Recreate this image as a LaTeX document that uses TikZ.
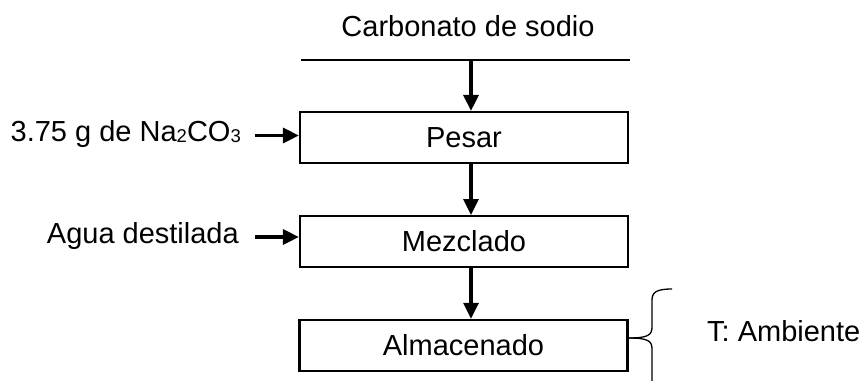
\documentclass[tikz,border=0pt]{standalone}
\usepackage{fontspec}
\setmainfont{Liberation Sans}
\usetikzlibrary{arrows.meta}
\newcommand{\subsc}[1]{\raisebox{-1.5pt}{\fontsize{18.5}{18.5}\selectfont #1}}
\begin{document}
\begin{tikzpicture}[x=1pt,y=-1pt,
  txt/.style={inner sep=0pt,font=\fontsize{29}{34}\selectfont},
  procbox/.style={draw,line width=2.2pt,minimum width=328pt,minimum height=51pt,inner sep=0pt,font=\fontsize{29}{34}\selectfont},
  arr/.style={line width=3.2pt,-{Triangle[length=16pt,width=15pt]}},
  brace/.style={line width=1.3pt}]
\useasboundingbox (0,0) rectangle (866,380);
% top label and line
\node[txt,anchor=base] (carb) at (468,36.7) {Carbonato de sodio};
\coordinate (l1) at (301,60);
\coordinate (l2) at (630,60);
\draw[line width=2.2pt] (l1) -- (l2);
\coordinate (top) at (471,60);
% boxes
\node[procbox] (pesar) at (464,137.5) {Pesar};
\node[procbox] (mezcla) at (464,241.6) {Mezclado};
\node[procbox] (almac) at (463.5,345.4) {Almacenado};
% vertical arrows
\draw[arr] (top) -- (top |- pesar.north);
\draw[arr] (top |- pesar.south) -- (top |- mezcla.north);
\draw[arr] (top |- mezcla.south) -- (top |- almac.north);
% left inputs
\node[txt,anchor=base east] (na) at (241,141) {3.75 g de Na\subsc{2}CO\subsc{3}};
\node[txt,anchor=base east] (agua) at (239,243) {Agua destilada};
\coordinate (na1) at (255,135.5);
\coordinate (ag1) at (255,237);
\draw[arr] (na1) -- (na1 -| pesar.west);
\draw[arr] (ag1) -- (ag1 -| mezcla.west);
% brace
\coordinate (cusp) at (almac.east |- 0,338);
\coordinate (btop) at (672,289);
\coordinate (bbot) at (652,382);
\draw[brace] (btop) .. controls (657,289) and (652,292) .. (652,300) -- (652,327)
  .. controls (652,335) and (648,338) .. (cusp);
\draw[brace] (cusp) .. controls (648,338) and (652,341) .. (652,349) -- (bbot);
\node[txt,anchor=base west] (amb) at (707,341) {T: Ambiente};
\end{tikzpicture}
\end{document}
